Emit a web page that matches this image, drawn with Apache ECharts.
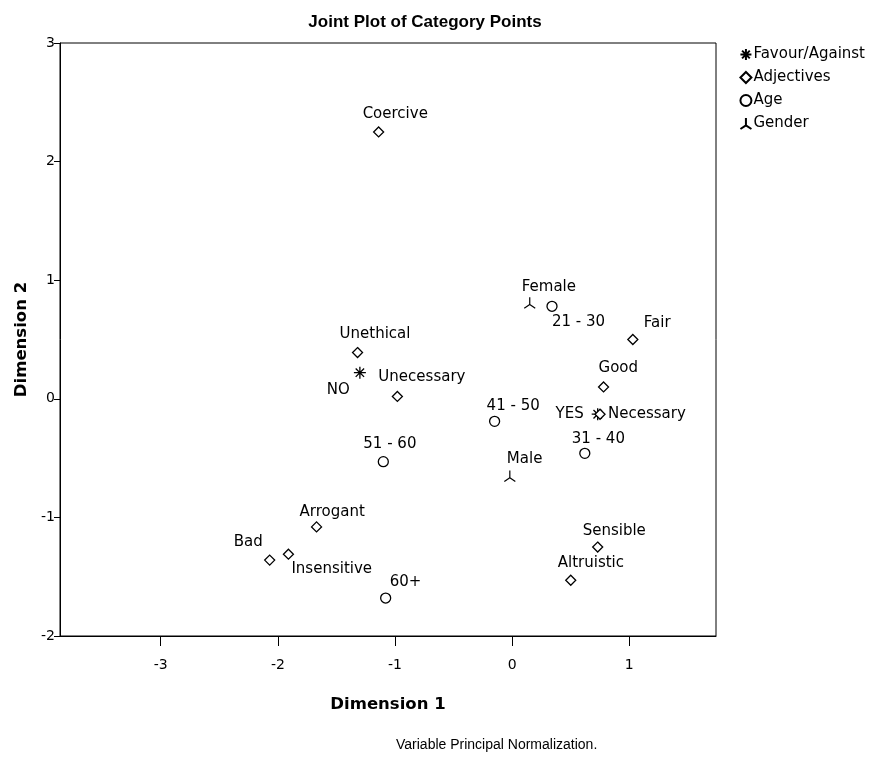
<!DOCTYPE html>
<html><head><meta charset="utf-8">
<script src="https://cdn.jsdelivr.net/npm/echarts@6/dist/echarts.min.js"></script>
<style>html,body{margin:0;padding:0;background:#fff}#c{width:870px;height:759px}</style>
</head><body><div id="c"></div>
<script>
// ---- data ----
const favourNames = ['NO', 'YES'];
const favourX = [-1.30, 0.73];
const favourY = [0.22, -0.13];

const adjNames = ['Coercive', 'Unethical', 'Unecessary', 'Fair', 'Good', 'Necessary', 'Arrogant', 'Bad', 'Insensitive', 'Sensible', 'Altruistic'];
const adjX = [-1.14, -1.32, -0.98, 1.03, 0.78, 0.75, -1.67, -2.07, -1.91, 0.73, 0.50];
const adjY = [2.25, 0.39, 0.02, 0.50, 0.10, -0.13, -1.08, -1.36, -1.31, -1.25, -1.53];

const ageNames = ['21 - 30', '31 - 40', '41 - 50', '51 - 60', '60+'];
const ageX = [0.34, 0.62, -0.15, -1.10, -1.08];
const ageY = [0.78, -0.46, -0.19, -0.53, -1.68];

const genderNames = ['Female', 'Male'];
const genderX = [0.15, -0.02];
const genderY = [0.81, -0.65];

const xTicks = [-3, -2, -1, 0, 1];

// ---- label placement (style only): [dx, dy, align] ----
const labelPlace = {
  'Coercive': [-16, -18, 'left'], 'Unethical': [-18, -18, 'left'], 'Unecessary': [-19, -19, 'left'],
  'Fair': [11, -16, 'left'], 'Good': [-5, -19, 'left'], 'Necessary': [8, 0, 'left'],
  'Arrogant': [-17, -15, 'left'], 'Bad': [-7, -18, 'right'], 'Insensitive': [3, 15, 'left'],
  'Sensible': [-15, -16, 'left'], 'Altruistic': [-13, -17, 'left'],
  'NO': [-10, 17, 'right'], 'YES': [-14, 0, 'right'],
  '21 - 30': [0, 16, 'left'], '31 - 40': [-13, -14, 'left'], '41 - 50': [-8, -15, 'left'],
  '51 - 60': [-20, -18, 'left'], '60+': [4, -16, 'left'],
  'Female': [-8, -16, 'left'], 'Male': [-3, -17, 'left']
};

function build(names, xs, ys) {
  return names.map((n, i) => {
    const p = labelPlace[n] || [-17, -17, 'left'];
    return { name: n, value: [xs[i], ys[i]], label: { offset: [p[0], p[1]], align: p[2] } };
  });
}

const FONT = "'DejaVu Sans', sans-serif";
const TFONT = "'Liberation Sans', Arial, sans-serif";
const starPath = 'path://M0,-10L0,10M-10,0L10,0M-7,-7L7,7M-7,7L7,-7';
const genderPath = 'path://M0,-10L0,2M0,2L-9,8M0,2L9,8';

const baseLabel = {
  show: true, formatter: '{b}', position: 'inside', verticalAlign: 'middle',
  color: '#000', fontFamily: FONT, fontSize: 15
};

function series(name, data, symbol, size, bw) {
  return {
    name, type: 'scatter', data, symbol, symbolSize: size,
    itemStyle: { color: '#fff', borderColor: '#000', borderWidth: bw, opacity: 1 },
    label: baseLabel, emphasis: { disabled: true }, z: 3
  };
}

const chart = echarts.init(document.getElementById('c'), null, { renderer: 'canvas' });
chart.setOption({
  animation: false,
  backgroundColor: '#fff',
  title: {
    text: 'Joint Plot of Category Points', left: 420, top: 9, textAlign: 'center',
    textStyle: { fontFamily: TFONT, fontSize: 17, fontWeight: 'bold', color: '#000' }
  },
  legend: {
    orient: 'vertical', right: 0, top: 42, itemWidth: 11, itemHeight: 11, itemGap: 8,
    textStyle: { fontFamily: FONT, fontSize: 15, color: '#000', padding: [0, 0, 0, -3] },
    data: ['Favour/Against', 'Adjectives', 'Age', 'Gender']
  },
  grid: { left: 60, right: 154, top: 43, bottom: 123, show: true, borderColor: '#000', borderWidth: 1, backgroundColor: 'transparent' },
  xAxis: {
    type: 'value', min: -3.86, max: 1.74,
    name: 'Dimension 1', nameLocation: 'middle', nameGap: 60,
    nameTextStyle: { fontFamily: FONT, fontSize: 16.5, fontWeight: 'bold', color: '#000' },
    axisLine: { show: true, onZero: false, lineStyle: { color: '#000' } },
    axisTick: { show: true, length: 10, customValues: xTicks, lineStyle: { color: '#000' } },
    axisLabel: { customValues: xTicks, fontFamily: FONT, fontSize: 14, color: '#000', margin: 22 },
    splitLine: { show: false }
  },
  yAxis: {
    type: 'value', min: -2, max: 3, interval: 1,
    name: 'Dimension 2', nameLocation: 'middle', nameGap: 30,
    nameTextStyle: { fontFamily: FONT, fontSize: 16.5, fontWeight: 'bold', color: '#000' },
    axisLine: { show: true, onZero: false, lineStyle: { color: '#000' } },
    axisTick: { show: true, length: 6, lineStyle: { color: '#000' } },
    axisLabel: { fontFamily: FONT, fontSize: 14, color: '#000', margin: 5 },
    splitLine: { show: false }
  },
  graphic: [{ type: 'text', left: 396, top: 738, style: { text: 'Variable Principal Normalization.', fontFamily: TFONT, fontSize: 14, fill: '#000' } }],
  series: [
    series('Favour/Against', build(favourNames, favourX, favourY), starPath, 12, 1.3),
    series('Adjectives', build(adjNames, adjX, adjY), 'diamond', 10, 1.3),
    series('Age', build(ageNames, ageX, ageY), 'circle', 10, 1.3),
    series('Gender', build(genderNames, genderX, genderY), genderPath, 11, 1.2)
  ]
});
</script></body></html>
